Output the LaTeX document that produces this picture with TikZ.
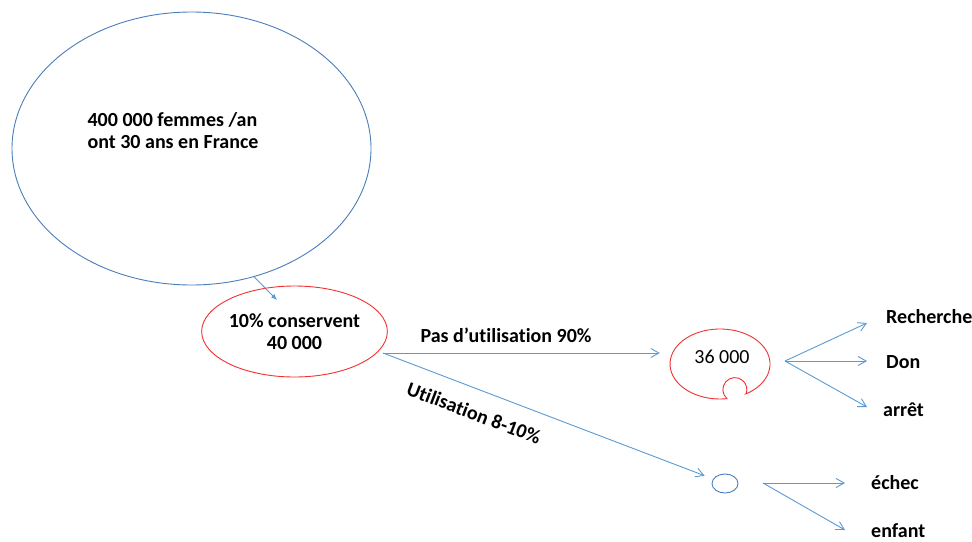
\documentclass[tikz,border=0pt]{standalone}
\usepackage{fontspec}
\setmainfont{Carlito}[RawFeature={-liga;-clig;-calt;-dlig}]
\usetikzlibrary{shapes.geometric,arrows.meta}
\definecolor{lineblue}{RGB}{91,155,213}
\definecolor{ellblue}{RGB}{74,126,187}
\definecolor{ellred}{RGB}{240,50,50}
\begin{document}
\begin{tikzpicture}[x=1pt,y=-1pt,
  arr/.style={draw=lineblue,line width=0.9pt,-{Straight Barb[length=8pt,width=9pt]}},
  lbl/.style={font=\fontsize{20}{22}\selectfont\bfseries,inner sep=0pt},
  txt/.style={font=\fontsize{20}{22}\selectfont,inner sep=0pt}]
\useasboundingbox[fill=white] (0,0) rectangle (972,541);
% big ellipse
\node[ellipse,draw=ellblue,line width=0.9pt,minimum width=359pt,minimum height=273pt,inner sep=0pt] (big) at (191.5,148.5) {};
\node[lbl,align=left] (bigtxt) at (173,131) {400 000 femmes /an\\ont 30 ans en France};
% red ellipse
\node[ellipse,draw=ellred,line width=0.9pt,minimum width=155pt,minimum height=91pt,inner sep=0pt,lbl,align=center] (cons) at (294.5,331.5) {10\% conservent\\40 000};
\coordinate (a1) at (277,300);
\draw[draw=lineblue,line width=0.9pt,-{Latex[length=6pt,width=5pt]}] (big.-64.4) -- (a1);
% split
\coordinate (sp) at (383,353);
% 36 000 notched shape
\node[ellipse,minimum width=100pt,minimum height=70pt,inner sep=0pt] (n36) at (720,364) {};
\draw[ellred,line width=0.9pt] (746,393.9) arc[start angle=58.7,end angle=-278,x radius=50,y radius=35]
  arc[start angle=131,end angle=381,radius=12] -- cycle;
\node[txt] (t36) at (722,357) {36 000};
% small ellipse
\node[ellipse,draw=ellblue,line width=0.9pt,minimum width=26pt,minimum height=19pt,inner sep=0pt] (sm) at (725,483.5) {};
% main arrows
\draw[arr,shorten >=10pt] (sp) -- (sp -| n36.west);
\draw[arr,shorten >=9pt] (sp) -- (sm);
\node[lbl] (l90) at (506,335) {Pas d’utilisation 90\%};
\node[lbl,rotate=-20.8] (l810) at (474,413) {Utilisation 8-10\%};
% outcomes of 36 000
\coordinate (o36) at (785,361);
\coordinate (e1) at (867,323);
\coordinate (e2) at (867,361);
\coordinate (e3) at (867,407);
\draw[arr] (o36) -- (e1);
\draw[arr] (o36) -- (e2);
\draw[arr] (o36) -- (e3);
\node[lbl,anchor=west] (rech) at (886,317) {Recherche};
\node[lbl,anchor=west] (don) at (886,362) {Don};
\node[lbl,anchor=west] (arret) at (883,410) {arrêt};
% outcomes of small
\coordinate (osm) at (763,483);
\coordinate (f1) at (845,483);
\coordinate (f2) at (845,530);
\draw[arr] (osm) -- (f1);
\draw[arr] (osm) -- (f2);
\node[lbl,anchor=west] (echec) at (871,483) {échec};
\node[lbl,anchor=west] (enfant) at (871,531) {enfant};
\end{tikzpicture}
\end{document}
